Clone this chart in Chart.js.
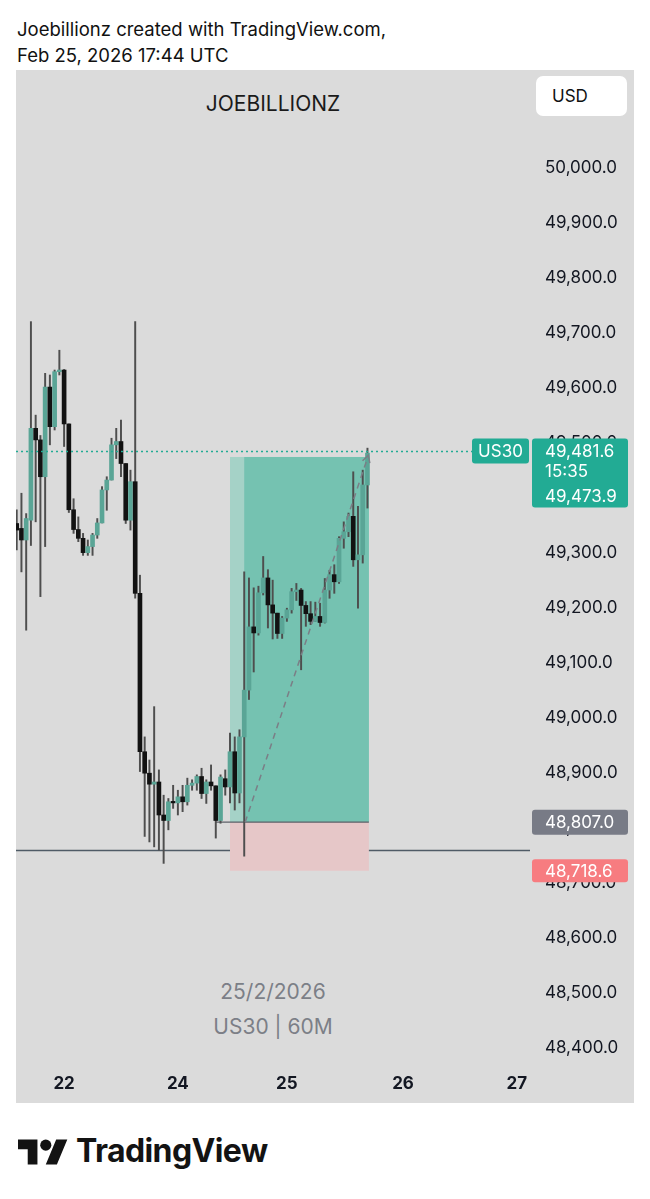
<!DOCTYPE html>
<html><head><meta charset="utf-8">
<script src="https://cdn.jsdelivr.net/npm/chart.js@4.4.1/dist/chart.umd.min.js"></script>
<style>
html,body{margin:0;padding:0;background:#fff;width:650px;height:1199px;overflow:hidden;font-family:Inter,"Noto Sans",sans-serif;}
#hdr{position:absolute;left:17px;top:16px;font-size:18.5px;line-height:26px;color:#111;}
#panel{position:absolute;left:16px;top:70px;width:618px;height:1033px;background:#dbdbdb;}
#c{position:absolute;left:16px;top:70px;z-index:2;}
.t{position:absolute;white-space:nowrap;z-index:1;}
#title{left:16px;width:514px;top:92px;text-align:center;font-size:21px;line-height:24px;color:#1a1a1a;}
#usd{left:536px;top:76px;width:91px;height:40px;background:#fff;border-radius:7px;font-size:17px;line-height:40px;color:#111;z-index:3;}
#usd span{position:absolute;left:16px;}
#wm1{left:16px;width:514px;top:979px;text-align:center;font-size:21px;line-height:26px;color:#7c7f87;}
#wm2{left:16px;width:514px;top:1014px;text-align:center;font-size:21px;line-height:26px;color:#7c7f87;}
#logo{position:absolute;left:18px;top:1134px;}
#logotxt{left:76px;top:1131px;font-size:32px;line-height:40px;font-weight:700;color:#131313;letter-spacing:-0.6px;}
</style></head>
<body>
<div id="hdr">Joebillionz created with TradingView.com,<br>Feb 25, 2026 17:44 UTC</div>
<div id="panel"></div>
<div class="t" id="title">JOEBILLIONZ</div>
<div class="t" id="usd"><span>USD</span></div>
<div class="t" id="wm1">25/2/2026</div>
<div class="t" id="wm2">US30 | 60M</div>
<canvas id="c" width="618" height="1033"></canvas>
<svg id="logo" width="50" height="39" viewBox="0 0 36 28"><path fill="#131313" d="M14 22H7V11H0V4h14v18zM28 22h-8l7.5-18h8L28 22z"/><circle fill="#131313" cx="20" cy="8" r="4"/></svg>
<div class="t" id="logotxt">TradingView</div>
<script>
// ---- data (US30, 60M candles) ----
const OPEN  = [49350,49341,49320,49356,49523,49502,49435,49598,49526,49626,49629,49531,49375,49339,49323,49297,49308,49329,49351,49411,49429,49493,49499,49459,49356,49426,49223,48935,48896,48876,48880,48820,48810,48844,48842,48853,48844,48874,48878,48890,48859,48880,48873,48810,48886,48871,48935,48860,48962,49047,49162,49151,49224,49251,49202,49187,49150,49178,49193,49226,49229,49201,49186,49172,49181,49170,49229,49257,49244,49323,49335,49363,49284,49293,49420];
const HIGH  = [49375,49405,49368,49717,49547,49510,49623,49620,49629,49665,49630,49531,49395,49362,49332,49320,49332,49359,49417,49435,49505,49523,49538,49459,49447,49717,49256,48962,48920,49017,48902,48856,48850,48874,48865,48874,48887,48884,48893,48905,48884,48911,48873,48893,48902,48969,48962,48975,49262,49251,49233,49236,49290,49266,49247,49187,49181,49196,49232,49241,49232,49208,49208,49207,49205,49250,49265,49275,49326,49353,49369,49444,49381,49447,49487];
const LOW   = [49302,49262,49156,49310,49353,49217,49308,49493,49520,49620,49490,49370,49332,49317,49292,49292,49292,49323,49351,49374,49429,49468,49435,49350,49338,49214,48899,48781,48771,48762,48756,48732,48793,48832,48820,48826,48838,48865,48865,48850,48841,48865,48778,48805,48856,48842,48829,48842,48745,49030,49080,49147,49220,49160,49140,49141,49141,49172,49187,49210,49084,49163,49166,49172,49163,49169,49214,49223,49241,49305,49326,49272,49196,49278,49378];
const CLOSE = [49338,49320,49359,49523,49502,49435,49598,49526,49626,49629,49531,49375,49339,49323,49297,49308,49329,49351,49411,49429,49493,49499,49459,49356,49426,49223,48935,48896,48876,48880,48820,48810,48844,48842,48853,48844,48874,48878,48890,48859,48880,48873,48810,48889,48871,48935,48860,48962,49047,49162,49151,49224,49251,49202,49187,49150,49178,49193,49226,49229,49201,49186,49172,49181,49170,49229,49257,49244,49323,49335,49363,49284,49293,49420,49478];
const DAY_TICK_POS = [10, 34, 57, 81.5, 105.5];
const DAY_LABELS = ['22','24','25','26','27'];
const PRICE_TICKS = [48400,48500,48600,48700,48800,48900,49000,49100,49200,49300,49400,49500,49600,49700,49800,49900,50000];
const SYMBOL = 'US30';
const LAST_PRICE = 49481.6;
const ASK_PRICE = 49473.9;
const COUNTDOWN = '15:35';
const ENTRY = 48807.0;
const STOP = 48718.6;
const TARGET = 49470.9;
const SUPPORT = 48756.4;
const ZONE_START = 45.0, ZONE_FILL_START = 48.0, ZONE_END = 74.3, ENTRY_LINE_START = 42.0;
const PATH_FROM = [48.2, 48807];
const PATH_TO = [74.2, 49474];

const fmt = v => Number(v).toLocaleString('en-US',{minimumFractionDigits:1,maximumFractionDigits:1});
const idx = OPEN.map((_, i) => i);
const UP = '#5aa596', DOWN = '#121212', WICK = '#4e4e4e';
const F = 'Inter, "Noto Sans", sans-serif';

function rr(ctx, x, y, w, h, r, color){ctx.beginPath();ctx.roundRect(x,y,w,h,r);ctx.fillStyle=color;ctx.fill();}

const overlay = {
  id: 'overlay',
  beforeDatasetsDraw(chart){
    const {ctx, chartArea:a, scales:{x, y}} = chart;
    ctx.save();
    const ySup = Math.round(y.getPixelForValue(SUPPORT)) + 0.5;
    ctx.strokeStyle = '#4f5b66'; ctx.lineWidth = 1.3;
    ctx.beginPath(); ctx.moveTo(a.left, ySup); ctx.lineTo(a.right, ySup); ctx.stroke();
    const xs = x.getPixelForValue(ZONE_START), xf = x.getPixelForValue(ZONE_FILL_START), xe = x.getPixelForValue(ZONE_END);
    const yt = y.getPixelForValue(TARGET), ye = y.getPixelForValue(ENTRY), ys = y.getPixelForValue(STOP);
    ctx.fillStyle = '#a5d2c7'; ctx.fillRect(xs, yt, xe - xs, ye - yt);
    ctx.fillStyle = '#75c2b1'; ctx.fillRect(xf, yt, xe - xf, ye - yt);
    ctx.fillStyle = '#e6c7c8'; ctx.fillRect(xs, ye, xe - xs, ys - ye);
    ctx.strokeStyle = '#5d6169'; ctx.lineWidth = 1.3;
    ctx.beginPath(); ctx.moveTo(x.getPixelForValue(ENTRY_LINE_START), ye); ctx.lineTo(xe, ye); ctx.stroke();
    ctx.restore();
  },
  afterDatasetsDraw(chart){
    const {ctx, chartArea:a, scales:{x, y}} = chart;
    ctx.save();
    const x1 = x.getPixelForValue(PATH_FROM[0]), y1 = y.getPixelForValue(PATH_FROM[1]);
    const x2 = x.getPixelForValue(PATH_TO[0]), y2 = y.getPixelForValue(PATH_TO[1]);
    ctx.strokeStyle = '#7b7e86'; ctx.lineWidth = 1.5; ctx.setLineDash([6,5]);
    ctx.beginPath(); ctx.moveTo(x1, y1); ctx.lineTo(x2, y2); ctx.stroke();
    ctx.setLineDash([]);
    const ang = Math.atan2(y2 - y1, x2 - x1), L = 8;
    ctx.beginPath();
    ctx.moveTo(x2 - L*Math.cos(ang - 0.5), y2 - L*Math.sin(ang - 0.5)); ctx.lineTo(x2, y2);
    ctx.lineTo(x2 - L*Math.cos(ang + 0.5), y2 - L*Math.sin(ang + 0.5)); ctx.stroke();
    ctx.restore();
  },
  afterDraw(chart){
    const {ctx, chartArea:a, scales:{x, y}} = chart;
    ctx.save();
    const yl = y.getPixelForValue(LAST_PRICE);
    ctx.strokeStyle = '#22ab94'; ctx.lineWidth = 1.5; ctx.setLineDash([2,3]);
    ctx.beginPath(); ctx.moveTo(a.left, Math.round(yl)+0.5); ctx.lineTo(a.right - 58, Math.round(yl)+0.5); ctx.stroke();
    ctx.setLineDash([]);
    rr(ctx, a.right - 58, yl - 12.5, 57, 25, 3, '#22ab94');
    ctx.fillStyle = '#fff'; ctx.font = '17px ' + F; ctx.textBaseline = 'middle';
    ctx.textAlign = 'center'; ctx.fillText(SYMBOL, a.right - 29.5, yl + 1);
    const bx = a.right + 2, bw = 96;
    rr(ctx, bx, yl - 12.5, bw, 69, 3, '#22ab94');
    ctx.fillStyle = '#fff'; ctx.textAlign = 'left';
    ctx.fillText(fmt(LAST_PRICE), bx + 13, yl + 1);
    ctx.fillText(COUNTDOWN, bx + 13, yl + 21);
    ctx.fillText(fmt(ASK_PRICE), bx + 13, yl + 46);
    const ye = y.getPixelForValue(ENTRY);
    rr(ctx, bx, ye - 12.5, bw, 25, 3, '#787b86');
    ctx.fillStyle = '#fff'; ctx.fillText(fmt(ENTRY), bx + 13, ye + 1);
    const ys = y.getPixelForValue(STOP);
    rr(ctx, bx, ys - 11.5, bw, 23, 3, '#f77c80');
    ctx.fillStyle = '#fff'; ctx.fillText(fmt(STOP), bx + 13, ys + 1);
    ctx.restore();
  }
};

const chart = new Chart(document.getElementById('c'), {
  type: 'bar',
  data: {
    datasets: [
      {
        data: idx.map(i => ({x: i, y: [OPEN[i], CLOSE[i]]})),
        backgroundColor: idx.map(i => CLOSE[i] >= OPEN[i] ? UP : DOWN),
        barThickness: 4, minBarLength: 1.5, grouped: false, borderWidth: 0
      },
      {
        data: idx.map(i => ({x: i, y: [LOW[i], HIGH[i]]})),
        backgroundColor: WICK,
        barThickness: 1.3, grouped: false, borderWidth: 0
      }
    ]
  },
  options: {
    responsive: false, animation: false, devicePixelRatio: 1,
    layout: {padding: 0},
    plugins: {legend: {display: false}, tooltip: {enabled: false}},
    scales: {
      x: {
        type: 'linear', min: -0.148, max: 108.29, offset: false,
        grid: {display: false, drawTicks: false}, border: {display: false},
        afterBuildTicks: s => { s.ticks = DAY_TICK_POS.map(v => ({value: v})); },
        ticks: {autoSkip: false, maxRotation: 0, padding: 9, color: '#131722',
          font: {family: F, size: 17, weight: '700'},
          callback: (v, i) => DAY_LABELS[i]},
        afterFit: s => { s.height = 38; s.paddingLeft = 0; s.paddingRight = 0; }
      },
      y: {
        position: 'right', min: 48365.45, max: 50174.5,
        grid: {display: false, drawTicks: false}, border: {display: false},
        afterBuildTicks: s => { s.ticks = PRICE_TICKS.map(v => ({value: v})); },
        ticks: {autoSkip: false, padding: 15, labelOffset: 1.5, color: '#131722',
          font: {family: F, size: 17}, callback: v => fmt(v)},
        afterFit: s => { s.width = 104; s.paddingTop = 0; s.paddingBottom = 0; }
      }
    }
  },
  plugins: [overlay]
});
</script>
</body></html>
